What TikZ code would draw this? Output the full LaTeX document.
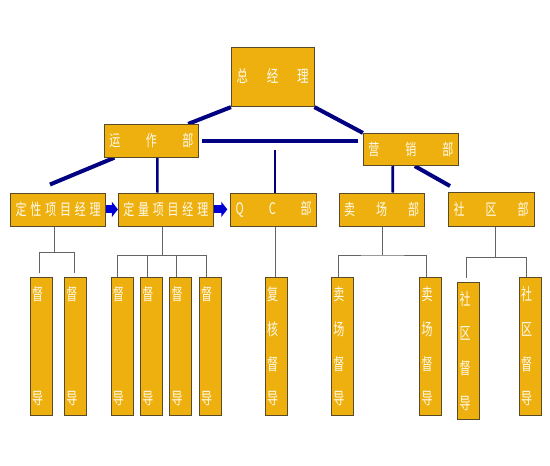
\documentclass[tikz,border=0pt]{standalone}
\usepackage{fontspec}
\usepackage{graphicx}
\usepackage{tikz}
\usetikzlibrary{arrows.meta}
\newfontfamily\cjk{Noto Sans CJK SC}
\definecolor{boxfill}{RGB}{238,176,14}
\definecolor{boxline}{RGB}{90,75,40}
\definecolor{navyline}{RGB}{0,0,128}
\definecolor{arrowblue}{RGB}{0,0,210}
\definecolor{boxtext}{RGB}{255,250,235}
\definecolor{treeline}{RGB}{100,100,100}
\pgfdeclarelayer{bg}
\pgfsetlayers{bg,main}
\tikzset{
	orgbox/.style={rectangle, draw=boxline, line width=0.8pt, fill=boxfill, text=boxtext, inner sep=0pt, minimum height=33pt, font=\cjk\fontsize{11}{13}\selectfont},
	leafbox/.style={orgbox, minimum width=22pt, minimum height=137.3pt, font=\cjk\fontsize{11}{12}\selectfont},
	thick link/.style={draw=navyline, line width=4pt},
	mid link/.style={draw=navyline, line width=2.6pt},
	tree link/.style={draw=treeline, line width=0.9pt},
	flow arrow/.style={draw=arrowblue, line width=8pt, -{Triangle[length=6pt,width=15pt]}}
}
\newcommand{\spread}[3][-3.5pt]{\raisebox{#1}{\scalebox{1}[1.45]{\makebox[#2]{#3}}}}
\newcommand{\tall}[1]{\scalebox{1}[1.5]{#1}}
\newcommand{\vtwo}[2]{\parbox[c][118pt][s]{18pt}{\raggedright \tall{#1}\par\vfill \tall{#2}}}
\newcommand{\vfour}[4]{\parbox[c][118pt][s]{18pt}{\raggedright \tall{#1}\par\vfill \tall{#2}\par\vfill \tall{#3}\par\vfill \tall{#4}}}

\begin{document}
\begin{tikzpicture}[x=1pt, y=-1pt]
	\useasboundingbox (0, 0) rectangle (550, 466);

	\node [orgbox, minimum width=82.7pt, minimum height=59.4pt, font=\cjk\fontsize{11.5}{14}\selectfont] (zjl) at (272.7, 77) {\spread[3pt]{72pt}{总\hfill 经\hfill 理}};
	\node [orgbox, minimum width=94.7pt] (yz) at (151.4, 140.8) {\spread{84pt}{运\hfill 作\hfill 部}};
	\node [orgbox, minimum width=95pt, minimum height=32.4pt] (yx) at (410.8, 149.5) {\spread{85pt}{营\hfill 销\hfill 部}};

	\node [orgbox, minimum width=95pt] (ds) at (58.2, 209.4) {\spread{85pt}{定\hfill 性\hfill 项\hfill 目\hfill 经\hfill 理}};
	\node [orgbox, minimum width=95pt] (dl) at (165.8, 209.4) {\spread{85pt}{定\hfill 量\hfill 项\hfill 目\hfill 经\hfill 理}};
	\node [orgbox, minimum width=86pt] (qc) at (273.7, 209.4) {\spread{76pt}{Q\hfill C\hfill 部}};
	\node [orgbox, minimum width=85.3pt] (mc) at (381.7, 209.4) {\spread{75pt}{卖\hfill 场\hfill 部}};
	\node [orgbox, minimum width=85.7pt, minimum height=34pt] (sq) at (491.2, 209.7) {\spread{75pt}{社\hfill 区\hfill 部}};

	\node [leafbox] (ds1) at (41.2, 346.4) {\vtwo{督}{导}};
	\node [leafbox] (ds2) at (75.3, 346.4) {\vtwo{督}{导}};
	\node [leafbox] (dl1) at (121.9, 346.4) {\vtwo{督}{导}};
	\node [leafbox] (dl2) at (151.3, 346.4) {\vtwo{督}{导}};
	\node [leafbox] (dl3) at (180.7, 346.4) {\vtwo{督}{导}};
	\node [leafbox] (dl4) at (210, 346.4) {\vtwo{督}{导}};
	\node [leafbox] (fh) at (276.2, 346.4) {\vfour{复}{核}{督}{导}};
	\node [leafbox] (mc1) at (342.3, 346.4) {\vfour{卖}{场}{督}{导}};
	\node [leafbox] (mc2) at (430.7, 346.4) {\vfour{卖}{场}{督}{导}};
	\node [leafbox] (sq1) at (468.7, 350.8) {\vfour{社}{区}{督}{导}};
	\node [leafbox] (sq2) at (530, 346.4) {\vfour{社}{区}{督}{导}};

	\coordinate (hl) at (201.7, 140.5);
	\coordinate (hr) at (357.7, 140.5);
	\coordinate (qctop) at (275, 150);
	\coordinate (dsend) at (50, 184.5);
	\coordinate (sqend) at (450, 186);
	\coordinate (dsbus) at (54.3, 252.7);
	\coordinate (dlbus) at (162.3, 255.7);
	\coordinate (mcbus) at (382.7, 255);
	\coordinate (sqbus) at (495, 257.3);

	\begin{pgfonlayer}{bg}
		\draw [thick link] (zjl.south west) to ([xshift=-11pt]yz.north east);
		\draw [thick link] (zjl.south east) to (yx.north west);
		\draw [thick link] (hl) to (hr);
		\draw [mid link] (qctop) to (qctop |- qc.north);
		\draw [thick link] ([xshift=-37pt]yz.south) to (dsend);
		\draw [mid link] ([xshift=6pt]yz.south) to ([xshift=-8.5pt]dl.north);
		\draw [mid link] ([xshift=-18pt]yx.south) to ([xshift=11pt]mc.north);
		\draw [thick link] ([xshift=4pt]yx.south) to (sqend);

		\draw [tree link] (ds.south -| dsbus) to (dsbus);
		\draw [tree link] ([xshift=-2pt, yshift=4pt]ds1.north) |- (dsbus) -| ([xshift=-1.3pt, yshift=4pt]ds2.north);
		\draw [tree link] (dl.south -| dlbus) to (dlbus);
		\draw [tree link] ([xshift=-4pt]dl1.north) |- (dlbus) -| ([xshift=-4pt]dl4.north);
		\draw [tree link] ([xshift=-4pt]dl2.north) |- (dlbus);
		\draw [tree link] ([xshift=-4pt]dl3.north) |- (dlbus);
		\draw [tree link] (qc.south -| qctop) to (fh.north -| qctop);
		\draw [tree link] (mc.south -| mcbus) to (mcbus);
		\draw [tree link] ([xshift=-3.6pt]mc1.north) |- (mcbus) -| ([xshift=-4pt]mc2.north);
		\draw [tree link] (sq.south -| sqbus) to (sqbus);
		\draw [tree link] ([xshift=-2pt, yshift=4pt]sq1.north) |- (sqbus) -| ([xshift=-4pt]sq2.north);
	\end{pgfonlayer}

	\draw [flow arrow] (ds.east) to (dl.west);
	\draw [flow arrow, shorten >=3pt] (dl.east) to (qc.west);
\end{tikzpicture}
\end{document}
